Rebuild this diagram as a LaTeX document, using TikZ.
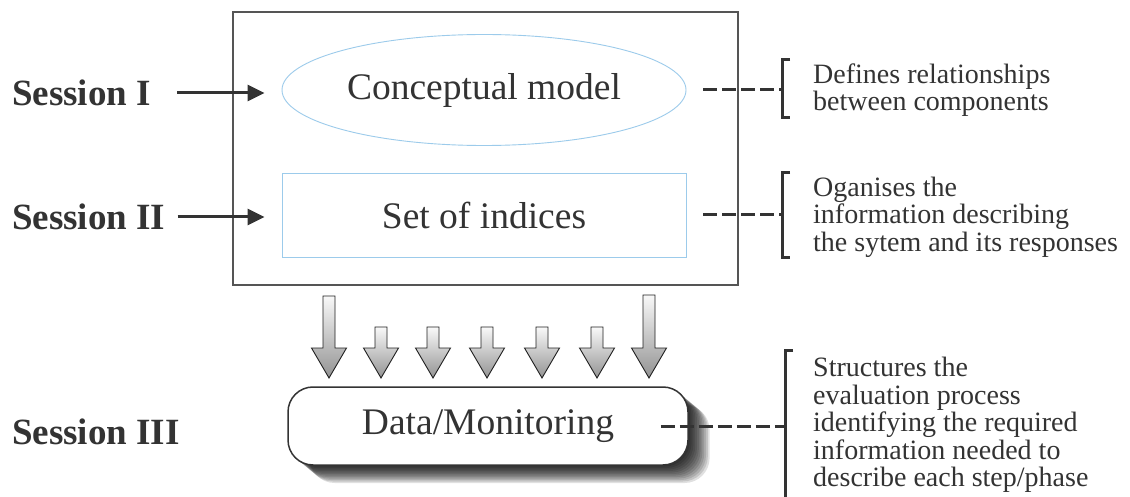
\documentclass[tikz,border=0pt]{standalone}
\usepackage{fontspec}
\setmainfont{Liberation Serif}
\usetikzlibrary{arrows.meta,shapes.geometric,calc}
\definecolor{txt}{HTML}{333333}
\definecolor{lblue}{HTML}{9CCBEB}
\definecolor{boxgray}{HTML}{555555}
\newcommand{\barrow}[2]{\path[blockarrow] (#1-6,#2) -- (#1+6,#2) -- (#1+6,348) -- (#1+17.5,348) -- (#1,378) -- (#1-17.5,348) -- (#1-6,348) -- cycle;}
\begin{document}
\begin{tikzpicture}[x=1pt,y=-1pt,
  big/.style={font=\fontsize{37.5}{40}\selectfont, text=txt},
  sess/.style={font=\fontsize{37}{40}\selectfont\bfseries, text=txt, anchor=west, inner sep=0pt},
  note/.style={font=\fontsize{28}{27.5}\selectfont, text=txt, align=left, anchor=west, inner sep=0pt},
  inarrow/.style={draw=txt, line width=3pt, -{Triangle[length=17pt,width=16pt]}},
  dashline/.style={draw=txt, line width=3pt, dash pattern=on 14pt off 5pt},
  bracket/.style={draw=txt, line width=3pt},
  blockarrow/.style={draw=gray!25!black, line width=0.9pt, top color=gray!5, bottom color=gray!85},
]
\fill[white] (0,0) rectangle (1130,497);
\useasboundingbox (0,0) rectangle (1130,497);

% main frame
\node[draw=boxgray, line width=1.6pt, minimum width=505pt, minimum height=273pt, inner sep=0pt] (frame) at (485.5,148.5) {};
\node[ellipse, draw=lblue, line width=0.9pt, minimum width=404pt, minimum height=111pt, inner sep=0pt, big] (cm) at (484,90) {Conceptual model};
\node[rectangle, draw=lblue, line width=0.9pt, minimum width=404pt, minimum height=84pt, inner sep=0pt, big] (si) at (484,215) {Set of indices};

% shadow of data box
\foreach \k in {1,...,12}
  \fill[black, opacity=0.12, rounded corners=25pt] (288+1.8*\k, 387+1.5*\k) rectangle (688+1.8*\k, 465+1.5*\k);
\node[draw=txt, line width=1.5pt, fill=white, rounded corners=25pt, minimum width=400pt, minimum height=78pt, inner sep=0pt, big] (dm) at (488,426) {Data/Monitoring};

% block arrows
\barrow{329}{296}
\barrow{381}{327}
\barrow{433}{327}
\barrow{487}{327}
\barrow{542}{327}
\barrow{597}{327}
\barrow{649}{295}

% session labels
\node[sess] (s1) at (12,93) {Session I};
\node[sess] (s2) at (12,217) {Session II};
\node[sess] (s3) at (12,432) {Session III};
\draw[inarrow] ([xshift=26pt]s1.east) -- ([xshift=-17pt]cm.west |- s1.east);
\draw[inarrow] ([xshift=12pt]s2.east) -- ([xshift=-17pt]si.west |- s2.east);

% notes
\coordinate (b1) at (782,90);
\coordinate (b2) at (782,215);
\coordinate (b3) at (785,426);
\draw[dashline] ([xshift=17pt]cm.east) -- (b1);
\draw[dashline] ([xshift=17pt]si.east) -- (b2);
\draw[dashline] ([xshift=-28pt]dm.east) -- (b3);
\draw[bracket] (790,60) -- (782,60) -- (782,118) -- (790,118);
\draw[bracket] (790,173) -- (782,173) -- (782,258) -- (790,258);
\draw[bracket] (793,350) -- (785,350) -- (785,505);

\node[note] (n1) at (813,90) {Defines relationships\\between components};
\node[note] (n2) at (813,217) {Oganises the\\information describing\\the sytem and its responses};
\node[note] (n3) at (813,425) {Structures the\\evaluation process\\identifying the required\\information needed to\\describe each step/phase};
\end{tikzpicture}
\end{document}
